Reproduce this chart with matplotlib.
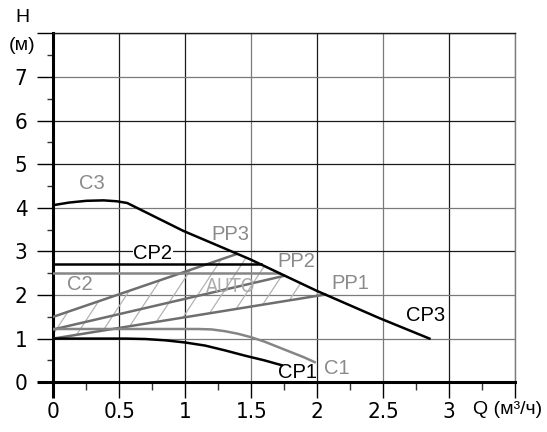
import numpy as np
import matplotlib
matplotlib.use("Agg")
import matplotlib.pyplot as plt
from matplotlib import font_manager as fm
from matplotlib.patches import Polygon

# curve data (Q in m3/h, H in m)
q_max = [0, 0.12, 0.25, 0.38, 0.48, 0.56, 0.985, 1.49, 2.0, 2.47, 2.85]   # C3 + CP3
h_max = [4.06, 4.12, 4.16, 4.17, 4.15, 4.11, 3.47, 2.82, 2.09, 1.47, 1.0]

q_cp2 = [0, 1.57]
h_cp2 = [2.71, 2.71]
q_c2 = [0, 1.71]
h_c2 = [2.5, 2.5]

q_c1 = [0, 1.1, 1.2, 1.3, 1.4, 1.5, 1.6, 1.7, 1.8, 1.9, 1.98]
h_c1 = [1.22, 1.22, 1.21, 1.17, 1.11, 1.03, 0.93, 0.81, 0.69, 0.57, 0.46]
q_cp1 = [0, 0.55, 0.7, 0.85, 1.0, 1.15, 1.3, 1.45, 1.6, 1.73]
h_cp1 = [1.0, 1.0, 0.99, 0.96, 0.91, 0.84, 0.73, 0.61, 0.5, 0.39]

q_pp3 = [0, 1.39]
h_pp3 = [1.5, 2.94]
q_pp2 = [0, 1.75]
h_pp2 = [1.21, 2.44]
q_pp1 = [0, 2.06]
h_pp1 = [1.0, 2.01]

x_ticks = [0, 0.5, 1, 1.5, 2, 2.5, 3, 3.5]
x_labels = ['0', '0.5', '1', '1.5', '2', '2.5', '3', '']
y_ticks = [0, 1, 2, 3, 4, 5, 6, 7, 8]
y_labels = ['0', '1', '2', '3', '4', '5', '6', '7', '']

# curve labels: text, x, y, colour
labels = [
    ('C3', 0.29, 4.55, '#8a8a8a'),
    ('CP2', 0.755, 2.95, 'black'),
    ('PP3', 1.34, 3.38, '#8a8a8a'),
    ('PP2', 1.84, 2.76, '#8a8a8a'),
    ('PP1', 2.25, 2.27, '#8a8a8a'),
    ('C2', 0.2, 2.23, '#8a8a8a'),
    ('CP3', 2.82, 1.52, 'black'),
    ('CP1', 1.85, 0.23, 'black'),
    ('C1', 2.15, 0.32, '#8a8a8a'),
]

GRID_BLACK = '#1a1a1a'
GRID_GRAY = '#7a7a7a'
x_grid_col = [GRID_BLACK, GRID_BLACK, GRID_BLACK, GRID_GRAY, GRID_BLACK, GRID_GRAY, GRID_BLACK, GRID_GRAY]
y_grid_col = [GRID_BLACK, GRID_GRAY, GRID_GRAY, GRID_BLACK, GRID_GRAY, GRID_BLACK, GRID_BLACK, GRID_GRAY, GRID_BLACK]

# narrow font for the numbers if one is around
fonts = fm.fontManager.ttflist
narrow = [f for f in fonts if f.name == 'Liberation Sans Narrow' and f.weight in (400, 'normal', 'regular')]
if not narrow:
    narrow = [f for f in fonts if f.name == 'DejaVu Sans' and 'condensed' in str(f.stretch)
              and f.weight in (400, 'normal', 'regular') and f.style == 'normal']
if narrow:
    tick_fp = fm.FontProperties(fname=narrow[0].fname, size=16)
    auto_fp = fm.FontProperties(fname=narrow[0].fname, size=14)
else:
    tick_fp = fm.FontProperties(family='Liberation Sans', size=15)
    auto_fp = fm.FontProperties(family='Liberation Sans', size=12.5)
text_font = ['Liberation Sans', 'DejaVu Sans']

fig = plt.figure(figsize=(5.47, 4.32), dpi=100)
ax = fig.add_axes([0.0974, 0.1153, 0.8446, 0.8074])
ax.set_xlim(0, 3.5)
ax.set_ylim(0, 8)

ax.set_xticks(x_ticks)
ax.set_xticklabels(x_labels, fontproperties=tick_fp)
ax.set_yticks(y_ticks)
ax.set_yticklabels(y_labels, fontproperties=tick_fp)
ax.set_xticks(np.arange(0.25, 3.5, 0.5), minor=True)
ax.set_yticks(np.arange(0.5, 8, 1.0), minor=True)
ax.tick_params(axis='x', which='major', direction='out', length=11.5, width=1, pad=3)
ax.tick_params(axis='y', which='major', direction='out', length=11.5, width=1, pad=7)
ax.tick_params(axis='x', which='minor', direction='out', length=5.5, width=1, color='#333333')
ax.tick_params(axis='y', which='minor', direction='out', length=4, width=1, color='#333333')
ax.grid(True, which='major', linewidth=0.9)
ax.set_axisbelow(True)

for i, (t, c) in enumerate(zip(ax.xaxis.get_major_ticks(), x_grid_col)):
    t.gridline.set_color(c)
    t.tick1line.set_color(c)
    if i == 0:
        t.tick1line.set_markeredgewidth(2.2)
for i, (t, c) in enumerate(zip(ax.yaxis.get_major_ticks(), y_grid_col)):
    t.gridline.set_color(c)
    t.tick1line.set_color(c)
    if i == 0:
        t.tick1line.set_markeredgewidth(2.2)

for s in ['left', 'bottom']:
    ax.spines[s].set_linewidth(2.2)
    ax.spines[s].set_color('black')
ax.spines['top'].set_linewidth(1)
ax.spines['top'].set_color(GRID_BLACK)
ax.spines['right'].set_linewidth(1)
ax.spines['right'].set_color(GRID_GRAY)

# AUTO area: between PP1 and PP3 up to the max curve
qq = np.linspace(q_pp3[1], q_pp1[1], 30)
hh = np.interp(qq, q_max, h_max)
poly_x = [q_pp1[0], q_pp1[1]] + list(qq[::-1]) + [q_pp3[0]]
poly_y = [h_pp1[0], h_pp1[1]] + list(hh[::-1]) + [h_pp3[0]]
area = Polygon(np.column_stack([poly_x, poly_y]), closed=True, facecolor='none', edgecolor='none')
ax.add_patch(area)
for c in np.arange(-0.6, 2.2, 0.18):
    xs = np.array([c, c + 0.8])
    ln, = ax.plot(xs, (xs - c) * 4.6, color='#b3b3b3', lw=0.9, zorder=2)
    ln.set_clip_path(area)

gray_line = '#6e6e6e'
ax.plot(q_pp3, h_pp3, color=gray_line, lw=1.8, zorder=3)
ax.plot(q_pp2, h_pp2, color=gray_line, lw=1.8, zorder=3)
ax.plot(q_pp1, h_pp1, color=gray_line, lw=1.8, zorder=3)
ax.plot(q_c2, h_c2, color='#858585', lw=1.8, zorder=3)
ax.plot(q_c1, h_c1, color='#858585', lw=1.8, zorder=3)
ax.plot(q_cp1, h_cp1, color='black', lw=1.8, zorder=4)
ax.plot(q_cp2, h_cp2, color='black', lw=1.8, zorder=6)
ax.plot(q_max, h_max, color='black', lw=1.8, zorder=6)

for txt, x, y, col in labels:
    kw = {}
    if txt == 'CP2':
        # white box only to break the gridline behind the label
        kw['bbox'] = dict(facecolor='white', edgecolor='none', pad=0.5)
    ax.text(x, y, txt, color=col, fontsize=14.5, fontfamily=text_font,
            ha='center', va='center', zorder=5, **kw)
ax.text(1.34, 2.19, 'AUTO', color='#ababab', fontproperties=auto_fp,
        ha='center', va='center', zorder=5)

fig.text(22 / 547, 1 - 18 / 432, 'H', fontsize=14, fontfamily=text_font, ha='center', va='center')
fig.text(22 / 547, 1 - 45 / 432, '(м)', fontsize=14, fontfamily=text_font, ha='center', va='center')
fig.text(508 / 547, 1 - 410 / 432, 'Q (м³/ч)', fontsize=14, fontfamily=text_font, ha='center', va='center')

fig.savefig('out.png', dpi=100)
